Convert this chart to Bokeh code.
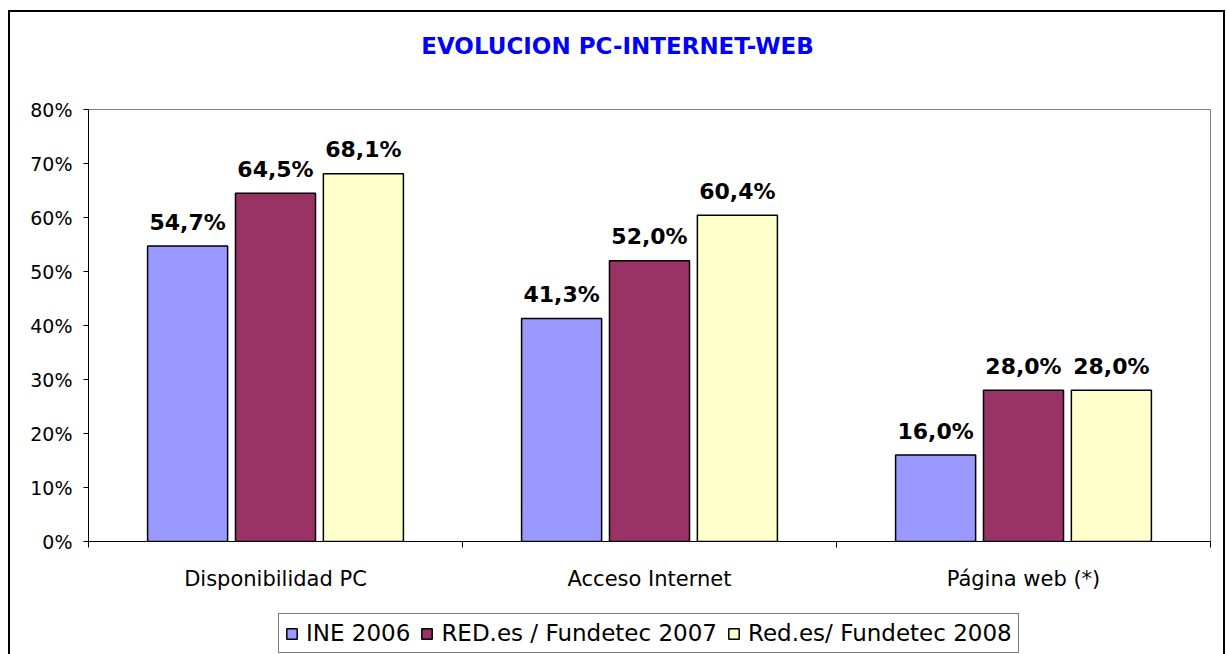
from bokeh.plotting import figure
from bokeh.layouts import column
from bokeh.models import (ColumnDataSource, Range1d, FixedTicker, LinearAxis,
                          Legend, LegendItem, Label)
from bokeh.transform import dodge
from bokeh.embed import file_html
from bokeh.resources import INLINE
from bokeh.core.properties import value

# ---- data ----
categories = ["Disponibilidad PC", "Acceso Internet", "Página web (*)"]
series_names = ["INE 2006", "RED.es / Fundetec 2007", "Red.es/ Fundetec 2008"]
ine_2006 = [54.7, 41.3, 16.0]
redes_2007 = [64.5, 52.0, 28.0]
redes_2008 = [68.1, 60.4, 28.0]
y_ticks = [0, 10, 20, 30, 40, 50, 60, 70, 80]
title_text = "EVOLUCION PC-INTERNET-WEB"

# ---- styles ----
colors = ["#9999FF", "#993366", "#FFFFCC"]
offsets = [-0.235, 0.0, 0.235]
bar_w = 0.214
FONT = "DejaVu Sans"
W = 1213


def fmt(v):
    return f"{v:.1f}".replace(".", ",") + "%"


centers = [i + 0.5 for i in range(len(categories))]
bounds = list(range(len(categories) + 1))
series = [ine_2006, redes_2007, redes_2008]
keys = ["s0", "s1", "s2"]

data = {"x": centers}
for k, s in zip(keys, series):
    data[k] = s
    data[k + "_lbl"] = [fmt(v) for v in s]
source = ColumnDataSource(data)


def strip(h):
    f = figure(width=W, height=h, x_range=Range1d(0, 1), y_range=Range1d(0, 1),
               output_backend="svg", toolbar_location=None,
               x_axis_type=None, y_axis_type=None, min_border=0)
    f.outline_line_color = None
    f.background_fill_color = "white"
    f.border_fill_color = "white"
    return f


# ---- title strip ----
top = strip(60)
top.add_layout(Label(x=529, y=27, x_units="screen", y_units="screen",
                     text=title_text, text_align="center",
                     text_baseline="alphabetic", text_font=FONT,
                     text_font_style="bold", text_font_size="23px",
                     text_color="#0000FF"))

# ---- main chart ----
p = figure(width=W, height=528,
           x_range=Range1d(0, len(categories)),
           y_range=Range1d(y_ticks[0], y_ticks[-1]),
           output_backend="svg", toolbar_location=None,
           x_axis_type=None, y_axis_type=None,
           min_border_left=78, min_border_right=13,
           min_border_top=37, min_border_bottom=59)
p.background_fill_color = "white"
p.border_fill_color = "white"
p.outline_line_color = "#808080"
p.outline_line_width = 1

xaxis = LinearAxis(ticker=FixedTicker(ticks=centers, minor_ticks=bounds))
xaxis.major_label_overrides = {c: n for c, n in zip(centers, categories)}
xaxis.major_tick_line_color = None
xaxis.minor_tick_line_color = "black"
xaxis.minor_tick_out = 6
xaxis.minor_tick_in = 0
xaxis.axis_line_color = "black"
xaxis.major_label_standoff = 19
xaxis.major_label_text_font = FONT
xaxis.major_label_text_font_size = "21px"
xaxis.major_label_text_color = "black"
p.add_layout(xaxis, "below")

yaxis = LinearAxis(ticker=FixedTicker(ticks=y_ticks, minor_ticks=[]))
yaxis.major_label_overrides = {t: f"{t}%" for t in y_ticks}
yaxis.major_tick_out = 5
yaxis.major_tick_in = 0
yaxis.major_tick_line_color = "black"
yaxis.axis_line_color = "black"
yaxis.major_label_standoff = 11
yaxis.major_label_text_font = FONT
yaxis.major_label_text_font_size = "19px"
yaxis.major_label_text_color = "black"
p.add_layout(yaxis, "left")

for k, off, col in zip(keys, offsets, colors):
    p.vbar(x=dodge("x", off, range=p.x_range), top=k, width=bar_w,
           source=source, fill_color=col, line_color="black", line_width=1.5)
    p.text(x=dodge("x", off, range=p.x_range), y=k, text=k + "_lbl",
           source=source, text_align="center", text_baseline="alphabetic",
           y_offset=-24, text_font=value(FONT), text_font_style="bold",
           text_font_size=value("22px"), text_color="black")

# ---- legend strip (swatches share the bars' styles) ----
leg = strip(54)
swatches = []
for k, col in zip(keys, colors):
    r = leg.vbar(x="x", top=k, width=bar_w, source=source, fill_color=col,
                 line_color="black", line_width=1.5)
    r.visible = False
    swatches.append(r)
legend = Legend(items=[LegendItem(label=n, renderers=[r])
                       for n, r in zip(series_names, swatches)],
                orientation="horizontal", location=(190, 1),
                glyph_width=13, glyph_height=13, label_standoff=8,
                label_height=22, spacing=10, padding=6, margin=0,
                inactive_fill_alpha=0.0,
                border_line_color="black", border_line_width=1,
                background_fill_color="white", background_fill_alpha=1,
                label_text_font=FONT, label_text_font_size="23px",
                label_text_color="black")
leg.add_layout(legend)

layout = column(top, p, leg, spacing=0,
                styles={"margin-left": "8px", "margin-top": "10px",
                        "border-top": "2px solid black",
                        "border-left": "2px solid black",
                        "border-right": "2px solid black"})

open("out.html", "w").write(file_html(layout, INLINE))
